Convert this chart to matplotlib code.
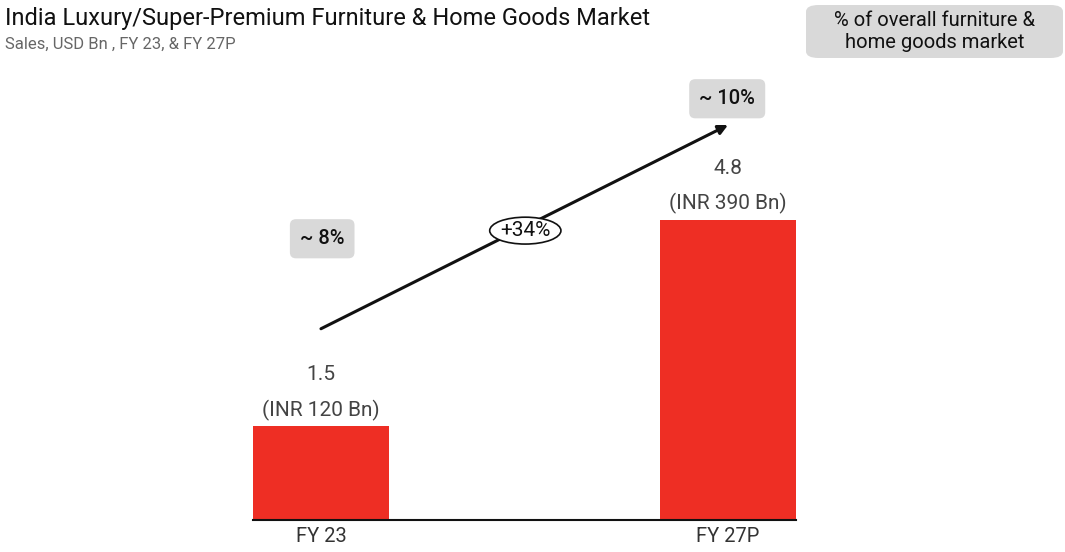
import matplotlib
matplotlib.use("Agg")
import matplotlib.pyplot as plt
from matplotlib.patches import FancyBboxPatch

plt.rcParams['font.family'] = ['Roboto', 'DejaVu Sans']

# data
years = ["FY 23", "FY 27P"]
sales_usd = [1.5, 4.8]
sales_inr = ["(INR 120 Bn)", "(INR 390 Bn)"]
share = ["~ 8%", "~ 10%"]
cagr = "+34%"

BAR = "#EE2E24"
GREYBOX = "#d9d9d9"

fig = plt.figure(figsize=(10.65, 5.52), dpi=100)
ax = fig.add_axes([253 / 1065, 32 / 552, 543 / 1065, 460 / 552])

x = list(range(len(years)))
ax.bar(x, sales_usd, width=0.334, color=BAR, zorder=2)
ax.set_xlim(-0.167, 1.167)
ax.set_ylim(0, 7.36)
for s in ["top", "right", "left"]:
    ax.spines[s].set_visible(False)
ax.spines["bottom"].set_linewidth(1.5)
ax.spines["bottom"].set_color("#111111")
ax.set_yticks([])
ax.set_xticks(x)
ax.set_xticklabels(years, fontsize=14.5, color="#333333")
ax.tick_params(axis="x", length=0, pad=5)

# value labels above bars
for xi, v, inr in zip(x, sales_usd, sales_inr):
    ax.text(xi, v + 0.26, inr, ha="center", va="center", fontsize=15, color="#444444")
    ax.text(xi, v + 0.82, f"{v}", ha="center", va="center", fontsize=15, color="#444444")

# growth arrow
ax.annotate("", xy=(1.0, 6.32), xytext=(0.0, 3.06),
            arrowprops=dict(arrowstyle="-|>", color="#111111", lw=2.2,
                            mutation_scale=14, shrinkA=0, shrinkB=0),
            annotation_clip=False)
ax.text(0.502, 4.63, cagr, ha="center", va="center", fontsize=15, color="#111111",
        bbox=dict(boxstyle="ellipse,pad=0.0", fc="white", ec="#111111", lw=1.2),
        zorder=5)

# share of overall market
share_pos = [(0.003, 4.5), (0.998, 6.74)]
for (sx, sy), s in zip(share_pos, share):
    ax.text(sx, sy, s, ha="center", va="center", fontsize=14.5, color="#111111",
            fontweight="medium",
            bbox=dict(boxstyle="round,pad=0.5,rounding_size=0.3", fc=GREYBOX, ec="none"),
            clip_on=False)

fig.text(5 / 1065, 1 - 18 / 552, "India Luxury/Super-Premium Furniture & Home Goods Market",
         ha="left", va="center", fontsize=17, color="#111111")
fig.text(5 / 1065, 1 - 44 / 552, "Sales, USD Bn , FY 23, & FY 27P",
         ha="left", va="center", fontsize=12, color="#666666")

# note box, top right
fig.patches.append(FancyBboxPatch((806 / 1065, 1 - 58 / 552), 257 / 1065, 53 / 552,
                                  boxstyle="round,pad=0,rounding_size=0.012",
                                  transform=fig.transFigure, fc=GREYBOX, ec="none"))
fig.text(935 / 1065, 1 - 32 / 552, "% of overall furniture &\nhome goods market",
         ha="center", va="center", fontsize=14.5, color="#111111", linespacing=1.2)

fig.savefig("out.png", dpi=100)
